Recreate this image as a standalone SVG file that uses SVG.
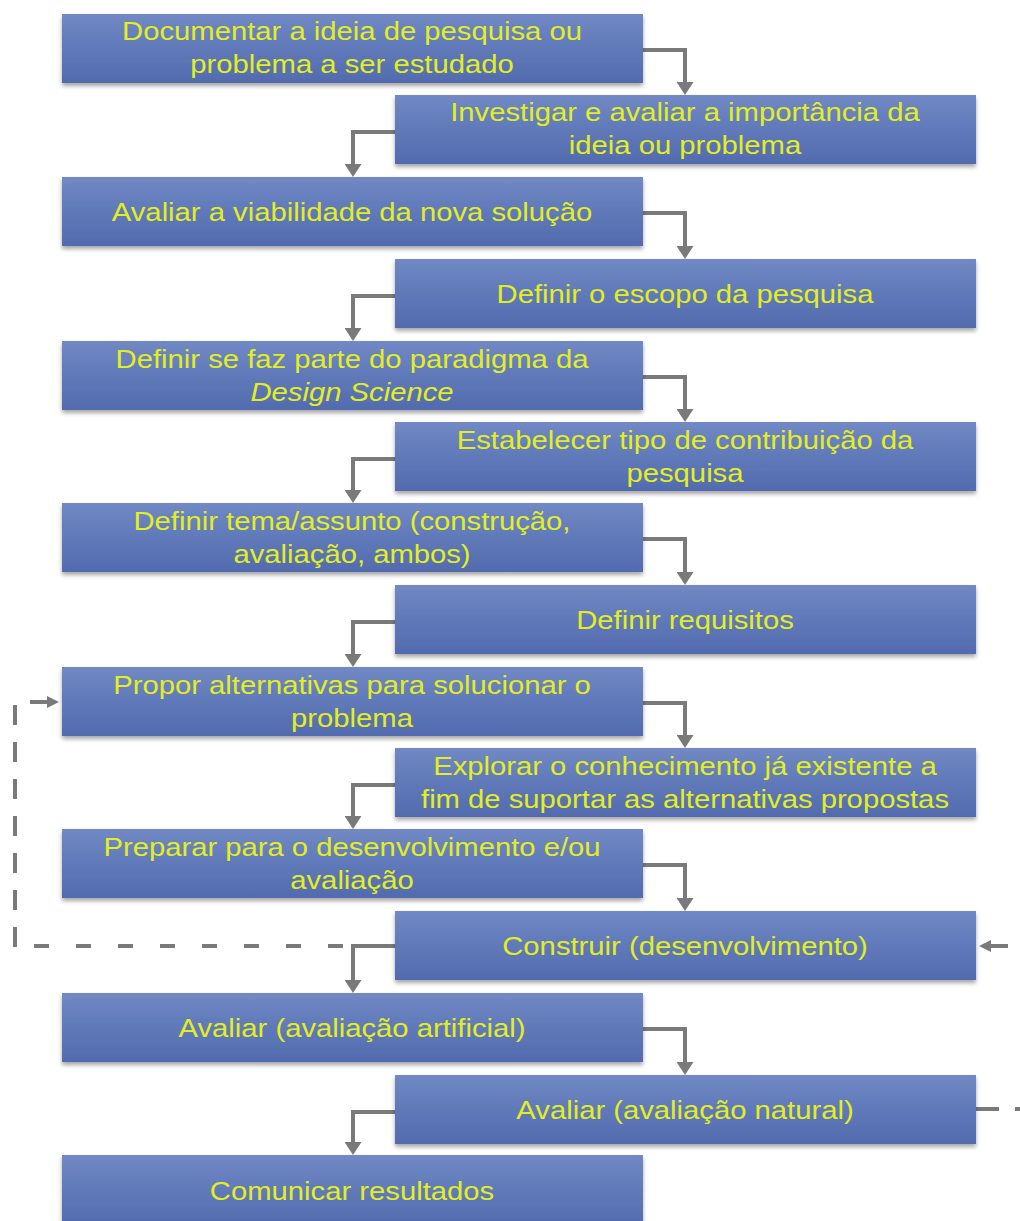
<svg xmlns="http://www.w3.org/2000/svg" width="1020" height="1221" viewBox="0 0 1020 1221">
  <defs>
    <linearGradient id="boxFill" x1="0" y1="0" x2="0" y2="1">
      <stop offset="0" stop-color="#7189c4"/>
      <stop offset="0.5" stop-color="#6079b9"/>
      <stop offset="1" stop-color="#526bae"/>
    </linearGradient>
    <filter id="shadow" x="-5%" y="-20%" width="110%" height="150%">
      <feDropShadow dx="0" dy="3" stdDeviation="2" flood-color="#000" flood-opacity="0.35"/>
    </filter>
    <marker id="arrow" markerUnits="userSpaceOnUse" viewBox="0 0 13 17" markerWidth="13" markerHeight="17" refX="1" refY="8.5" orient="auto">
      <path d="M0,0 L13,8.5 L0,17 Z" fill="#7a7a7a"/>
    </marker>
    <marker id="arrowSmall" markerUnits="userSpaceOnUse" viewBox="0 0 12 12" markerWidth="12" markerHeight="12" refX="1" refY="6" orient="auto">
      <path d="M0,0 L12,6 L0,12 Z" fill="#7a7a7a"/>
    </marker>
  </defs>
  <style>
    .box { fill: url(#boxFill); filter: url(#shadow); }
    .t { font-family: "Liberation Sans", Arial, sans-serif; font-size: 25px; fill: #e3ee22; text-anchor: middle; }
    .it { font-style: italic; }
    .flow { fill: none; stroke: #7a7a7a; stroke-width: 4; marker-end: url(#arrow); }
    .loop { fill: none; stroke: #7a7a7a; stroke-width: 4; }
    .loop-end { fill: none; stroke: #7a7a7a; stroke-width: 4; marker-end: url(#arrowSmall); }
  </style>
  <rect width="1020" height="1221" fill="#ffffff"/>

  <!-- step connectors -->
  <g id="connectors">
    <path class="flow" d="M643,50 H685 V83"/>
    <path class="flow" d="M395,132 H353 V165"/>
    <path class="flow" d="M643,213 H685 V247"/>
    <path class="flow" d="M395,296 H353 V329"/>
    <path class="flow" d="M643,377 H685 V410"/>
    <path class="flow" d="M395,459 H353 V491"/>
    <path class="flow" d="M643,539 H685 V573"/>
    <path class="flow" d="M395,622 H353 V655"/>
    <path class="flow" d="M643,703 H685 V736"/>
    <path class="flow" d="M395,785 H353 V817"/>
    <path class="flow" d="M643,865 H685 V899"/>
    <path class="flow" d="M395,946 H353 V981"/>
    <path class="flow" d="M643,1029 H685 V1063"/>
    <path class="flow" d="M395,1112 H353 V1143"/>
    <!-- feedback loop: build back to proposing alternatives -->
    <path class="loop" d="M395,946 H14" stroke-dasharray="15 27" stroke-dashoffset="32"/>
    <path class="loop" d="M15,947 V705" stroke-dasharray="20 17"/>
    <path class="loop-end" d="M30,702 H48"/>
    <!-- feedback loop: natural evaluation back to build -->
    <path class="loop" d="M976,1109 H1024" stroke-dasharray="23 16"/>
    <path class="loop-end" d="M1008,946 H990"/>
  </g>

  <g id="n1">
    <rect class="box" x="62" y="14" width="581" height="69"/>
    <text class="t" transform="translate(352,40) scale(1.17,1)">Documentar a ideia de pesquisa ou</text>
    <text class="t" transform="translate(352,73) scale(1.17,1)">problema a ser estudado</text>
  </g>
  <g id="n2">
    <rect class="box" x="395" y="95" width="581" height="69"/>
    <text class="t" transform="translate(685,121) scale(1.17,1)">Investigar e avaliar a importância da</text>
    <text class="t" transform="translate(685,154) scale(1.17,1)">ideia ou problema</text>
  </g>
  <g id="n3">
    <rect class="box" x="62" y="177" width="581" height="69"/>
    <text class="t" transform="translate(352,221) scale(1.17,1)">Avaliar  a viabilidade  da nova solução</text>
  </g>
  <g id="n4">
    <rect class="box" x="395" y="259" width="581" height="69"/>
    <text class="t" transform="translate(685,303) scale(1.17,1)">Definir o escopo da pesquisa</text>
  </g>
  <g id="n5">
    <rect class="box" x="62" y="341" width="581" height="69"/>
    <text class="t" transform="translate(352,368) scale(1.17,1)">Definir se faz parte do paradigma da</text>
    <text class="t it" transform="translate(352,401) scale(1.17,1)">Design Science</text>
  </g>
  <g id="n6">
    <rect class="box" x="395" y="422" width="581" height="69"/>
    <text class="t" transform="translate(685,449) scale(1.17,1)">Estabelecer tipo de contribuição da</text>
    <text class="t" transform="translate(685,482) scale(1.17,1)">pesquisa</text>
  </g>
  <g id="n7">
    <rect class="box" x="62" y="503" width="581" height="69"/>
    <text class="t" transform="translate(352,530) scale(1.17,1)">Definir tema/assunto (construção,</text>
    <text class="t" transform="translate(352,563) scale(1.17,1)">avaliação, ambos)</text>
  </g>
  <g id="n8">
    <rect class="box" x="395" y="585" width="581" height="69"/>
    <text class="t" transform="translate(685,629) scale(1.17,1)">Definir requisitos</text>
  </g>
  <g id="n9">
    <rect class="box" x="62" y="667" width="581" height="69"/>
    <text class="t" transform="translate(352,694) scale(1.17,1)">Propor alternativas para solucionar o</text>
    <text class="t" transform="translate(352,727) scale(1.17,1)">problema</text>
  </g>
  <g id="n10">
    <rect class="box" x="395" y="748" width="581" height="69"/>
    <text class="t" transform="translate(685,775) scale(1.17,1)">Explorar o conhecimento já existente a</text>
    <text class="t" transform="translate(685,808) scale(1.17,1)">fim de suportar as alternativas propostas</text>
  </g>
  <g id="n11">
    <rect class="box" x="62" y="829" width="581" height="69"/>
    <text class="t" transform="translate(352,856) scale(1.17,1)">Preparar para o desenvolvimento  e/ou</text>
    <text class="t" transform="translate(352,889) scale(1.17,1)">avaliação</text>
  </g>
  <g id="n12">
    <rect class="box" x="395" y="911" width="581" height="69"/>
    <text class="t" transform="translate(685,955) scale(1.17,1)">Construir (desenvolvimento)</text>
  </g>
  <g id="n13">
    <rect class="box" x="62" y="993" width="581" height="69"/>
    <text class="t" transform="translate(352,1037) scale(1.17,1)">Avaliar  (avaliação artificial)</text>
  </g>
  <g id="n14">
    <rect class="box" x="395" y="1075" width="581" height="69"/>
    <text class="t" transform="translate(685,1119) scale(1.17,1)">Avaliar  (avaliação natural)</text>
  </g>
  <g id="n15">
    <rect class="box" x="62" y="1155" width="581" height="72"/>
    <text class="t" transform="translate(352,1200) scale(1.17,1)">Comunicar resultados</text>
  </g>
</svg>
